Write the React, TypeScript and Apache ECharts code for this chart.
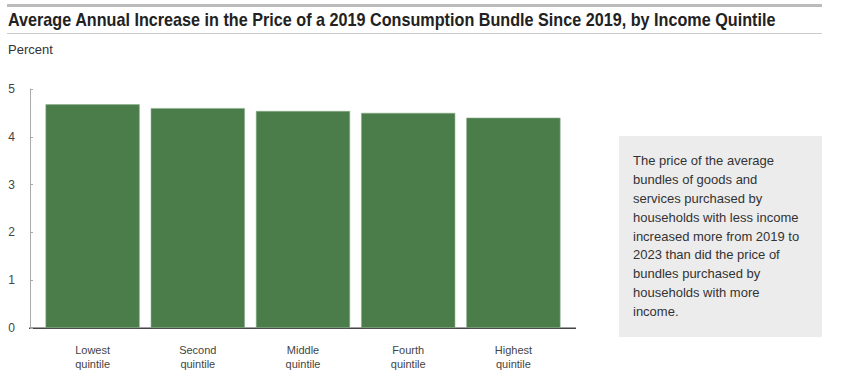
import React, { useEffect, useRef } from "react";
import * as echarts from "echarts";

const title = "Average Annual Increase in the Price of a 2019 Consumption Bundle Since 2019, by Income Quintile";
const unitLabel = "Percent";
const categories = ["Lowest\nquintile", "Second\nquintile", "Middle\nquintile", "Fourth\nquintile", "Highest\nquintile"];
const values = [4.68, 4.6, 4.54, 4.5, 4.4];
const yTicks = [0, 1, 2, 3, 4, 5];
const noteLines = [
  "The price of the average",
  "bundles of goods and",
  "services purchased by",
  "households with less income",
  "increased more from 2019 to",
  "2023 than did the price of",
  "bundles purchased by",
  "households with more",
  "income.",
];

export default function App() {
  const ref = useRef<HTMLDivElement>(null);
  useEffect(() => {
    const chart = echarts.init(ref.current!, null, { renderer: "svg" });
    chart.setOption({
      animation: false,
      grid: { left: 40, width: 526, top: 89, bottom: 64, containLabel: false },
      xAxis: {
        type: "category",
        data: categories,
        axisLine: { show: false },
        axisTick: { show: false },
        axisLabel: {
          color: "#444",
          fontFamily: "Liberation Sans, Arial, sans-serif",
          fontSize: 11,
          lineHeight: 14,
          margin: 15,
        },
      },
      yAxis: {
        type: "value",
        min: yTicks[0],
        max: yTicks[yTicks.length - 1],
        interval: 1,
        offset: 10,
        splitLine: { show: false },
        axisLine: { show: true, lineStyle: { color: "#aaa", width: 1 } },
        axisTick: { show: true, inside: true, length: 3, lineStyle: { color: "#aaa" } },
        axisLabel: {
          color: "#444",
          fontFamily: "Liberation Sans, Arial, sans-serif",
          fontSize: 12,
          margin: 15,
        },
      },
      series: [
        {
          type: "bar",
          data: values,
          barCategoryGap: "10.5%",
          itemStyle: { color: "#4b7d4b", borderColor: "#8cae8c", borderWidth: 0.6 },
        },
      ],
      graphic: [
        { type: "rect", shape: { x: 7, y: 4, width: 815, height: 3 }, style: { fill: "#bbbbbb" } },
        {
          type: "text",
          x: 8,
          y: 11,
          scaleX: 0.899,
          style: {
            text: title,
            fill: "#222",
            font: "bold 18px 'Liberation Sans', Arial, sans-serif",
          },
        },
        { type: "rect", shape: { x: 7, y: 33, width: 815, height: 1 }, style: { fill: "#cccccc" } },
        {
          type: "text",
          x: 8,
          y: 43,
          style: { text: unitLabel, fill: "#333", font: "13px 'Liberation Sans', Arial, sans-serif" },
        },
        { type: "rect", shape: { x: 29, y: 327.5, width: 547, height: 1.5 }, style: { fill: "#444" } },
        { type: "rect", shape: { x: 619, y: 136, width: 203, height: 201 }, style: { fill: "#ececec" } },
        {
          type: "text",
          x: 633,
          y: 151,
          style: {
            text: noteLines.join("\n"),
            fill: "#333",
            lineHeight: 18.9,
            font: "13px 'Liberation Sans', Arial, sans-serif",
          },
        },
      ],
    });
    return () => chart.dispose();
  }, []);
  return <div ref={ref} style={{ width: 841, height: 392, position: "absolute", left: 0, top: 0 }} />;
}
